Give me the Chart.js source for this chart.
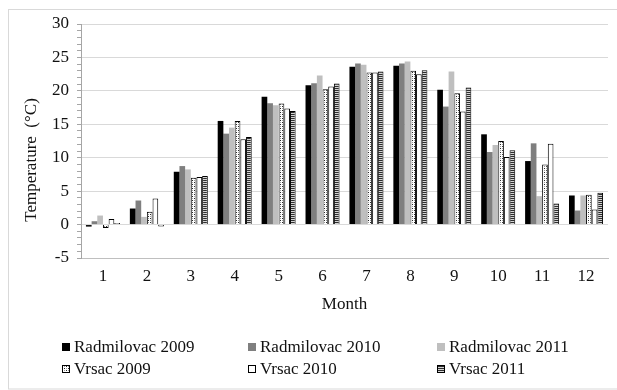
<!DOCTYPE html>
<html>
<head>
<meta charset="utf-8">
<script src="https://cdn.jsdelivr.net/npm/chart.js@4/dist/chart.umd.min.js"></script>
<style>
  html, body { margin: 0; padding: 0; background: #fff; }
  #wrap { width: 617px; height: 390px; position: relative; }
</style>
</head>
<body>
<div id="wrap"><canvas id="c" width="617" height="390"></canvas></div>
<script>
// Monthly mean air temperature, Radmilovac and Vrsac, 2009–2011
const months = ['1', '2', '3', '4', '5', '6', '7', '8', '9', '10', '11', '12'];
const radmilovac2009 = [-0.3, 2.4, 7.9, 15.5, 19.1, 20.85, 23.6, 23.75, 20.15, 13.5, 9.5, 4.35];
const radmilovac2010 = [0.5, 3.6, 8.75, 13.6, 18.15, 21.15, 24.1, 24.1, 17.65, 10.85, 12.15, 2.1];
const radmilovac2011 = [1.35, 1.15, 8.25, 14.5, 17.85, 22.3, 23.9, 24.4, 22.9, 11.9, 4.25, 4.35];
const vrsac2009 = [-0.5, 1.9, 7.0, 15.5, 18.1, 20.25, 22.75, 23.0, 19.65, 12.5, 9.0, 4.45];
const vrsac2010 = [0.85, 3.9, 7.1, 12.75, 17.35, 20.65, 22.75, 22.5, 16.9, 10.1, 12.1, 2.25];
const vrsac2011 = [0.25, -0.3, 7.25, 13.1, 17.0, 21.1, 22.9, 23.1, 20.5, 11.1, 3.15, 4.75];
const seriesNames = ['Radmilovac 2009', 'Radmilovac 2010', 'Radmilovac 2011', 'Vrsac 2009', 'Vrsac 2010', 'Vrsac 2011'];
const yTitle = 'Temperature  (\u00B0C)';
const xTitle = 'Month';

const FONT = "'Liberation Serif', 'Times New Roman', serif";
const INK = '#111111';

// small repeating fills for the Vrsac series
function makePattern(w, h, draw) {
  const t = document.createElement('canvas');
  t.width = w; t.height = h;
  const g = t.getContext('2d');
  draw(g);
  return document.getElementById('c').getContext('2d').createPattern(t, 'repeat');
}
const dotted = makePattern(4, 4, g => {
  g.fillStyle = '#ffffff'; g.fillRect(0, 0, 4, 4);
  g.fillStyle = '#2a2a2a';
  g.fillRect(0, 0, 1, 1); g.fillRect(2, 2, 1, 1);
  g.fillStyle = '#9a9a9a';
  g.fillRect(2, 0, 1, 1); g.fillRect(0, 2, 1, 1);
});
const striped = makePattern(2, 2, g => {
  g.fillStyle = '#d4d4d4'; g.fillRect(0, 0, 2, 2);
  g.fillStyle = '#2e2e2e'; g.fillRect(0, 0, 2, 1);
});

const seriesData = [radmilovac2009, radmilovac2010, radmilovac2011, vrsac2009, vrsac2010, vrsac2011];
const fills = ['#000000', '#7f7f7f', '#bfbfbf', dotted, '#ffffff', striped];
const borders = [0, 0, 0, 1, 1, 1];

const datasets = seriesData.map((d, i) => ({
  label: seriesNames[i],
  data: d,
  backgroundColor: fills[i],
  borderColor: '#000000',
  borderWidth: borders[i],
  categoryPercentage: 0.775,
  barPercentage: 1.0
}));

// outer frame, rotated y title and the three-column legend
const decorations = {
  id: 'decorations',
  beforeDraw(chart) {
    const ctx = chart.ctx;
    ctx.save();
    ctx.fillStyle = '#ffffff';
    ctx.fillRect(0, 0, chart.width, chart.height);
    ctx.strokeStyle = '#d9d9d9';
    ctx.lineWidth = 1;
    ctx.strokeRect(8.5, 9.5, 700, 379.5);
    ctx.restore();
  },
  afterDraw(chart) {
    const ctx = chart.ctx;
    ctx.save();
    ctx.fillStyle = INK;
    ctx.font = '17px ' + FONT;
    ctx.textAlign = 'center';
    ctx.textBaseline = 'middle';
    ctx.translate(32, 160);
    ctx.rotate(-Math.PI / 2);
    ctx.fillText(yTitle, 0, 0);
    ctx.restore();

    const colX = [62, 248, 437];
    const rowY = [347, 369];
    ctx.save();
    ctx.font = '17px ' + FONT;
    ctx.textAlign = 'left';
    ctx.textBaseline = 'middle';
    chart.data.datasets.forEach((ds, i) => {
      const x = colX[i % 3];
      const y = rowY[Math.floor(i / 3)];
      const s = 8;
      ctx.fillStyle = ds.backgroundColor;
      ctx.fillRect(x, y - s / 2, s, s);
      if (ds.borderWidth) {
        ctx.strokeStyle = '#000000';
        ctx.lineWidth = 1;
        ctx.strokeRect(x + 0.5, y - s / 2 + 0.5, s - 1, s - 1);
      }
      ctx.fillStyle = INK;
      ctx.fillText(ds.label, x + 12, y + 1);
    });
    ctx.restore();
  }
};

new Chart(document.getElementById('c'), {
  type: 'bar',
  data: { labels: months, datasets },
  plugins: [decorations],
  options: {
    responsive: false,
    animation: false,
    events: [],
    layout: { padding: { left: 0, right: 9, top: 24, bottom: 72 } },
    plugins: { legend: { display: false }, tooltip: { enabled: false } },
    scales: {
      x: {
        grid: { display: false, drawTicks: false },
        border: { display: true, color: '#bfbfbf', width: 1 },
        ticks: { color: INK, font: { family: FONT, size: 17 }, padding: 8, maxRotation: 0 },
        title: { display: true, text: xTitle, color: INK, font: { family: FONT, size: 17 }, padding: { top: 0, bottom: 3 } },
        afterFit(scale) { scale.height = 60; }
      },
      y: {
        min: -5,
        max: 30,
        grid: {
          color: c => (c.tick && c.tick.value % 5 === 0) ? '#d9d9d9' : 'rgba(0,0,0,0)',
          tickColor: '#a6a6a6',
          tickLength: 4,
          lineWidth: 1
        },
        border: { display: true, color: '#a6a6a6', width: 1 },
        ticks: {
          stepSize: 1,
          autoSkip: false,
          padding: 8,
          color: INK,
          font: { family: FONT, size: 17 },
          callback: v => (v % 5 === 0 ? String(v) : '')
        },
        afterFit(scale) { scale.width = 81; }
      }
    }
  }
});
</script>
</body>
</html>
